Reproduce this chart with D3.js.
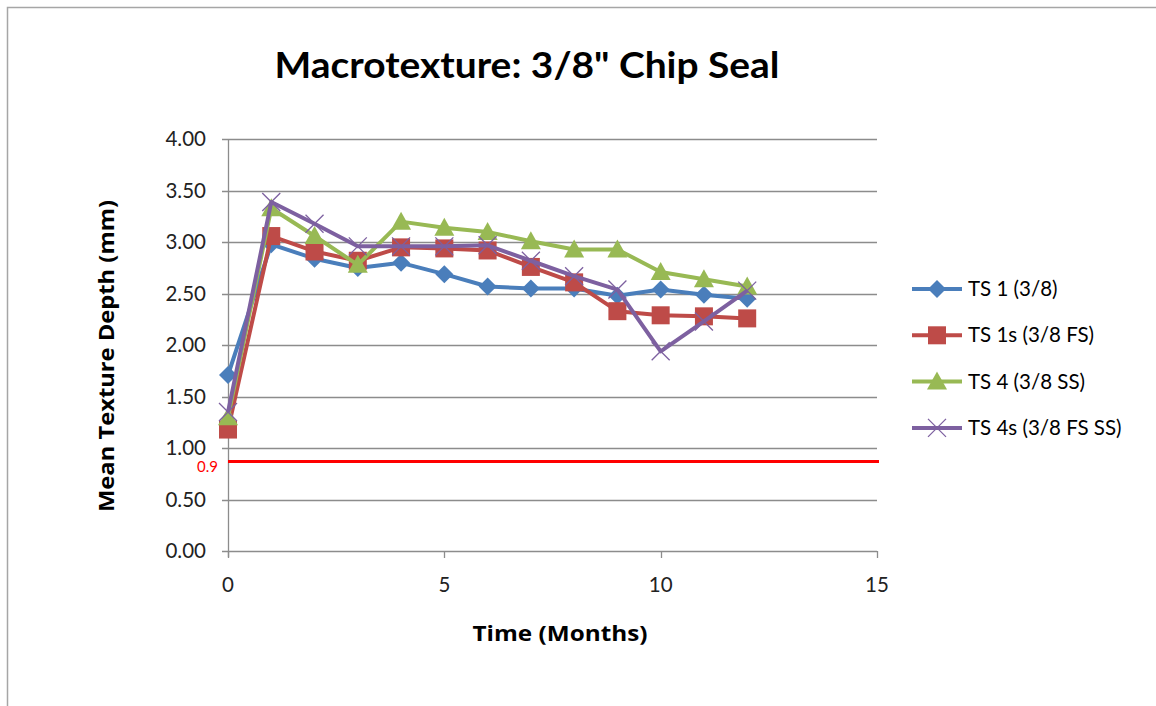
<!DOCTYPE html>
<html><head><meta charset="utf-8">
<script src="https://cdn.jsdelivr.net/npm/d3@7"></script>
<style>body{margin:0;background:#fff}svg{display:block}</style>
</head><body>
<svg id="c" width="1156" height="706"></svg>
<script>
const months = [0,1,2,3,4,5,6,7,8,9,10,11,12];
const ts1  = [1.71,2.98,2.84,2.75,2.80,2.69,2.57,2.55,2.55,2.48,2.54,2.49,2.45];
const ts1s = [1.18,3.06,2.91,2.82,2.95,2.94,2.92,2.76,2.61,2.33,2.29,2.28,2.26];
const ts4  = [1.30,3.33,3.06,2.78,3.20,3.14,3.10,3.01,2.93,2.93,2.71,2.64,2.57];
const ts4s = [1.35,3.39,3.18,2.96,2.96,2.96,2.97,2.82,2.67,2.54,1.94,2.23,2.53];
const seriesNames = ["TS 1 (3/8)","TS 1s (3/8 FS)","TS 4 (3/8 SS)","TS 4s (3/8 FS SS)"];
const yTicks = [0,0.5,1,1.5,2,2.5,3,3.5,4];
const xTicks = [0,5,10,15];
const threshold = 0.87;
const thresholdLabel = "0.9";

const series = [
  {name:seriesNames[0], values:ts1,  color:"#4A7EBB", marker:"diamond"},
  {name:seriesNames[1], values:ts1s, color:"#BE4B48", marker:"square"},
  {name:seriesNames[2], values:ts4,  color:"#98B954", marker:"triangle"},
  {name:seriesNames[3], values:ts4s, color:"#7D60A0", marker:"x"}
];

const svg = d3.select("#c");
const L=228, R=877, T=139.3, B=551;
const x = d3.scaleLinear().domain([0,15]).range([L,R]);
const y = d3.scaleLinear().domain([0,4]).range([B,T]);
const font = "Lato, 'Open Sans', sans-serif";
const font2 = "'Open Sans', Lato, sans-serif";

// outer border
svg.append("rect").attr("x",7.5).attr("y",7.5).attr("width",1160).attr("height",720)
  .attr("fill","none").attr("stroke","#A6A6A6").attr("stroke-width",1.5);

// title
svg.append("text").attr("x",527).attr("y",78).attr("text-anchor","middle")
  .attr("font-family",font).attr("font-weight","bold").attr("font-size",37)
  .attr("textLength",505).attr("lengthAdjust","spacingAndGlyphs")
  .attr("fill","#000").text('Macrotexture: 3/8" Chip Seal');

// gridlines
svg.append("g").selectAll("line").data(yTicks).join("line")
  .attr("x1",L-6).attr("x2",R).attr("y1",d=>Math.round(y(d))+0.5).attr("y2",d=>Math.round(y(d))+0.5)
  .attr("stroke","#8C8C8C").attr("stroke-width",1.3);

// y axis line
svg.append("line").attr("x1",L+0.5).attr("x2",L+0.5).attr("y1",T).attr("y2",B+6)
  .attr("stroke","#8C8C8C").attr("stroke-width",1.3);
// x ticks
svg.append("g").selectAll("line").data(xTicks).join("line")
  .attr("x1",d=>Math.round(x(d))+0.5).attr("x2",d=>Math.round(x(d))+0.5)
  .attr("y1",B).attr("y2",B+7).attr("stroke","#8C8C8C").attr("stroke-width",1.3);

// y tick labels
svg.append("g").selectAll("text").data(yTicks).join("text")
  .attr("x",L-22).attr("y",d=>y(d)+7).attr("text-anchor","end")
  .attr("font-family",font).attr("font-size",20.5).attr("fill","#222")
  .text(d=>d3.format(".2f")(d));
// x tick labels
svg.append("g").selectAll("text").data(xTicks).join("text")
  .attr("x",d=>x(d)).attr("y",B+41).attr("text-anchor","middle")
  .attr("font-family",font).attr("font-size",20.5).attr("fill","#222")
  .text(d=>d);

// axis titles
svg.append("text").attr("transform","translate(114,356) rotate(-90)").attr("text-anchor","middle")
  .attr("font-family",font2).attr("font-weight","bold").attr("font-size",21.5)
  .attr("textLength",312).attr("lengthAdjust","spacingAndGlyphs").attr("fill","#000")
  .text("Mean Texture Depth (mm)");
svg.append("text").attr("x",560).attr("y",641).attr("text-anchor","middle")
  .attr("font-family",font2).attr("font-weight","bold").attr("font-size",21.5)
  .attr("textLength",175).attr("lengthAdjust","spacingAndGlyphs").attr("fill","#000")
  .text("Time (Months)");

// threshold line
svg.append("line").attr("x1",L).attr("x2",R+2).attr("y1",y(threshold)).attr("y2",y(threshold))
  .attr("stroke","#FF0000").attr("stroke-width",3);
svg.append("text").attr("x",L-10).attr("y",y(threshold)+11).attr("text-anchor","end")
  .attr("font-family",font).attr("font-size",15).attr("fill","#FF0000").text(thresholdLabel);

function drawMarker(g, type, color, cx, cy){
  if(type==="diamond"){
    g.append("path").attr("d",`M${cx},${cy-9}L${cx+9},${cy}L${cx},${cy+9}L${cx-9},${cy}Z`).attr("fill",color);
  } else if(type==="square"){
    g.append("rect").attr("x",cx-9).attr("y",cy-9).attr("width",18).attr("height",18).attr("fill",color);
  } else if(type==="triangle"){
    g.append("path").attr("d",`M${cx},${cy-10}L${cx+10},${cy+8}L${cx-10},${cy+8}Z`).attr("fill",color);
  } else {
    g.append("path").attr("d",`M${cx-9},${cy-9}L${cx+9},${cy+9}M${cx-9},${cy+9}L${cx+9},${cy-9}`)
      .attr("stroke",color).attr("stroke-width",1.3).attr("fill","none");
  }
}

const line = d3.line().x((d,i)=>x(months[i])).y(d=>y(d));
series.forEach(s=>{
  const g = svg.append("g");
  g.append("path").attr("d",line(s.values)).attr("fill","none")
    .attr("stroke",s.color).attr("stroke-width",4).attr("stroke-linejoin","round");
  s.values.forEach((v,i)=>drawMarker(g,s.marker,s.color,x(months[i]),y(v)));
});

// legend
series.forEach((s,i)=>{
  const ly = 289 + i*46.3;
  const g = svg.append("g");
  g.append("line").attr("x1",912).attr("x2",962).attr("y1",ly).attr("y2",ly)
    .attr("stroke",s.color).attr("stroke-width",4);
  drawMarker(g,s.marker,s.color,937,ly);
  g.append("text").attr("x",968).attr("y",ly+7).attr("font-family",font).attr("font-size",20.5)
    .attr("fill","#000").text(s.name);
});
</script>
</body></html>
